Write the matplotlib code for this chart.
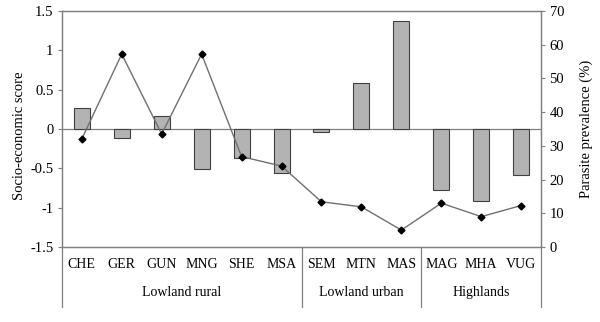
import matplotlib
matplotlib.use("Agg")
import matplotlib.pyplot as plt
import numpy as np

plt.rcParams['font.family'] = ['Liberation Serif', 'DejaVu Serif']

categories = ["CHE", "GER", "GUN", "MNG", "SHE", "MSA", "SEM", "MTN", "MAS", "MAG", "MHA", "VUG"]
socio_score = [0.27, -0.11, 0.16, -0.51, -0.37, -0.56, -0.04, 0.58, 1.37, -0.78, -0.91, -0.59]
prevalence = [32, 57.2, 33.5, 57.2, 26.8, 24, 13.4, 11.9, 5, 13, 9, 12.3]
groups = ["Lowland rural", "Lowland urban", "Highlands"]
group_sizes = [6, 3, 3]

fig = plt.figure(figsize=(6, 3.22), dpi=100)
ax = fig.add_axes([0.103, 0.233, 0.799, 0.733])
x = np.arange(len(categories))
ax.bar(x, socio_score, width=0.4, color='#b3b3b3', edgecolor='#404040', linewidth=0.8, zorder=2)
ax.axhline(0, color='#808080', linewidth=0.9, zorder=1)
ax.set_xlim(-0.5, len(categories) - 0.5)
ax.set_ylim(-1.5, 1.5)
ax.set_yticks([-1.5, -1, -0.5, 0, 0.5, 1, 1.5])
ax.set_yticklabels(["-1.5", "-1", "-0.5", "0", "0.5", "1", "1.5"])
ax.set_ylabel("Socio-economic score", fontsize=10.5)
ax.yaxis.set_label_coords(-0.074, 0.47)
ax.set_xticks(x)
ax.set_xticklabels(categories)
ax.tick_params(axis='x', length=0, pad=8, labelsize=10)
ax.tick_params(axis='y', length=3, color='#808080', labelsize=10.5, pad=3)
for s in ax.spines.values():
    s.set_color('#808080')
    s.set_linewidth(0.9)

ax2 = ax.twinx()
ax2.plot(x, prevalence, color='#707070', linewidth=1.0, marker='D', markersize=3.5,
         markerfacecolor='black', markeredgecolor='black', zorder=3)
ax2.set_ylim(0, 70)
ax2.set_yticks(range(0, 71, 10))
ax2.set_ylabel("Parasite prevalence (%)", fontsize=10.5)
ax2.yaxis.set_label_coords(1.08, 0.5)
ax2.tick_params(axis='y', length=3, color='#808080', labelsize=10.5, pad=3)
for s in ax2.spines.values():
    s.set_color('#808080')
    s.set_linewidth(0.9)

# group separators and labels
trans = ax.get_xaxis_transform()
bounds = np.concatenate([[0], np.cumsum(group_sizes)]) - 0.5
for b in bounds:
    ax.plot([b, b], [0, -0.255], transform=trans, color='#808080', linewidth=0.9, clip_on=False)
for i, g in enumerate(groups):
    mid = (bounds[i] + bounds[i + 1]) / 2
    ax.text(mid, -0.195, g, transform=trans, ha='center', va='center', fontsize=10)

fig.savefig("out.png", dpi=100)
